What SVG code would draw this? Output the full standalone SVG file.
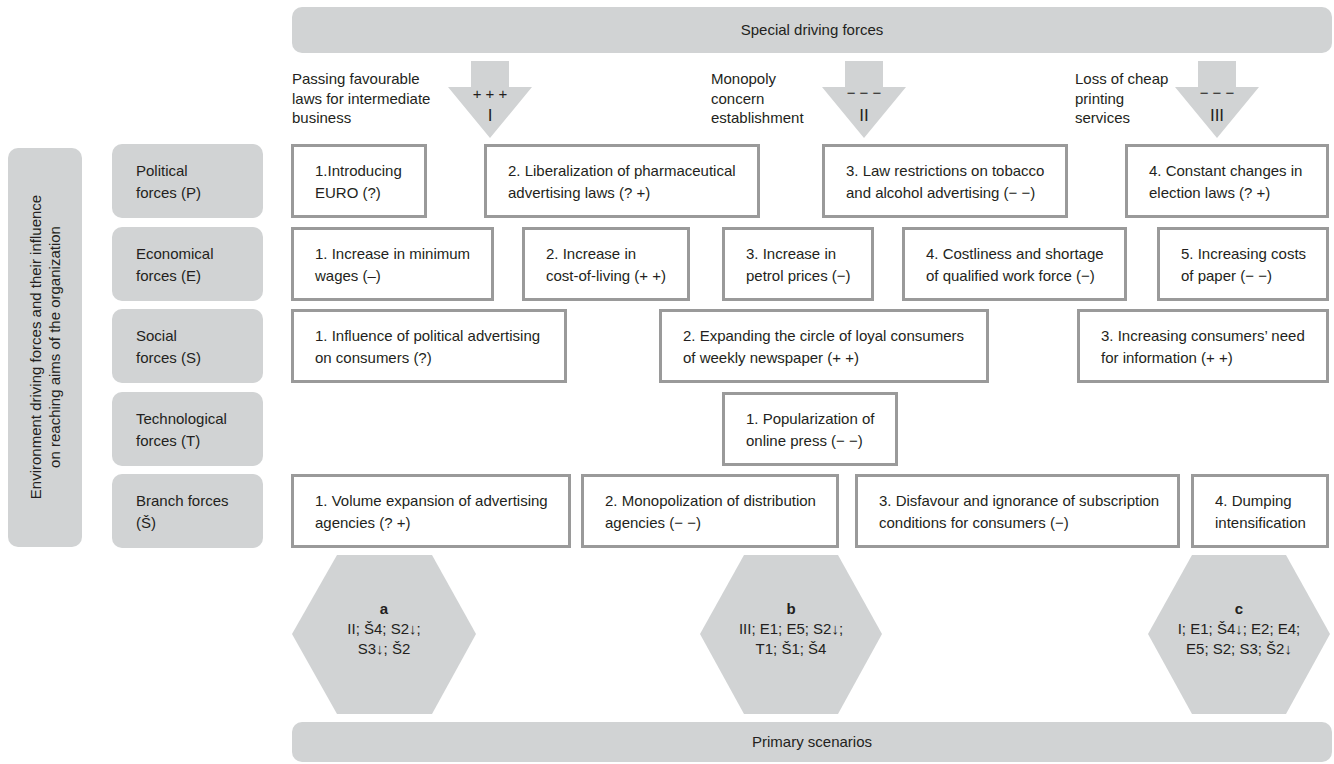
<svg xmlns="http://www.w3.org/2000/svg" width="1334" height="764" viewBox="0 0 1334 764">
<style>
text { font-family: "Liberation Sans", Arial, sans-serif; font-size: 15px; fill: #231f20; }
.band { fill: #d1d3d4; }
.box { fill: #ffffff; stroke: #9a9a9a; stroke-width: 3; }
.arrow { fill: #d1d3d4; }
.c { text-anchor: middle; }
.b { font-weight: bold; }
.num { font-size: 17px; }
</style>
<rect width="1334" height="764" fill="#ffffff"/>

<g id="special-driving-forces">
  <rect class="band" x="292" y="7" width="1040" height="46" rx="10"/>
  <text class="c" x="812" y="35">Special driving forces</text>
</g>

<g id="connectors">
  <polygon class="arrow" points="471,61 509,61 509,87 532,87 490,138 448,87 471,87"/>
  <polygon class="arrow" points="845,61 883,61 883,87 906,87 864,138 822,87 845,87"/>
  <polygon class="arrow" points="1198,61 1236,61 1236,87 1259,87 1217,138 1175,87 1198,87"/>
  <text class="c" x="490" y="99">+ + +</text>
  <text class="c num" x="490" y="121">I</text>
  <text class="c" x="864" y="98">− − −</text>
  <text class="c num" x="864" y="121">II</text>
  <text class="c" x="1217" y="98">− − −</text>
  <text class="c num" x="1217" y="121">III</text>
</g>

<g id="label-I">
  <text x="292" y="84">Passing favourable</text>
  <text x="292" y="104">laws for intermediate</text>
  <text x="292" y="123">business</text>
</g>
<g id="label-II">
  <text x="711" y="84">Monopoly</text>
  <text x="711" y="104">concern</text>
  <text x="711" y="123">establishment</text>
</g>
<g id="label-III">
  <text x="1075" y="84">Loss of cheap</text>
  <text x="1075" y="104">printing</text>
  <text x="1075" y="123">services</text>
</g>

<g id="environment">
  <rect class="band" x="8" y="148" width="74" height="399" rx="10"/>
  <text class="c" transform="translate(41,347) rotate(-90)">Environment driving forces and their influence</text>
  <text class="c" transform="translate(60,347) rotate(-90)">on reaching aims of the organization</text>
</g>

<g id="cat-P">
  <rect class="band" x="112" y="144" width="151" height="74" rx="10"/>
  <text x="136" y="176">Political</text>
  <text x="136" y="198">forces (P)</text>
</g>
<g id="cat-E">
  <rect class="band" x="112" y="227" width="151" height="74" rx="10"/>
  <text x="136" y="259">Economical</text>
  <text x="136" y="281">forces (E)</text>
</g>
<g id="cat-S">
  <rect class="band" x="112" y="309" width="151" height="74" rx="10"/>
  <text x="136" y="341">Social</text>
  <text x="136" y="363">forces (S)</text>
</g>
<g id="cat-T">
  <rect class="band" x="112" y="392" width="151" height="74" rx="10"/>
  <text x="136" y="424">Technological</text>
  <text x="136" y="446">forces (T)</text>
</g>
<g id="cat-B">
  <rect class="band" x="112" y="474" width="151" height="74" rx="10"/>
  <text x="136" y="506">Branch forces</text>
  <text x="136" y="528">(Š)</text>
</g>

<!-- Political row -->
<g id="P1">
  <rect class="box" x="292.5" y="145.5" width="133" height="71"/>
  <text x="315" y="176">1.Introducing</text>
  <text x="315" y="198">EURO (?)</text>
</g>
<g id="P2">
  <rect class="box" x="485.5" y="145.5" width="273" height="71"/>
  <text x="508" y="176">2. Liberalization of pharmaceutical</text>
  <text x="508" y="198">advertising laws (? +)</text>
</g>
<g id="P3">
  <rect class="box" x="823.5" y="145.5" width="243" height="71"/>
  <text x="846" y="176">3. Law restrictions on tobacco</text>
  <text x="846" y="198">and alcohol advertising (− −)</text>
</g>
<g id="P4">
  <rect class="box" x="1126.5" y="145.5" width="201" height="71"/>
  <text x="1149" y="176">4. Constant changes in</text>
  <text x="1149" y="198">election laws (? +)</text>
</g>

<!-- Economical row -->
<g id="E1">
  <rect class="box" x="292.5" y="228.5" width="200" height="71"/>
  <text x="315" y="259">1. Increase in minimum</text>
  <text x="315" y="281">wages (–)</text>
</g>
<g id="E2">
  <rect class="box" x="523.5" y="228.5" width="165" height="71"/>
  <text x="546" y="259">2. Increase in</text>
  <text x="546" y="281">cost-of-living (+ +)</text>
</g>
<g id="E3">
  <rect class="box" x="723.5" y="228.5" width="149" height="71"/>
  <text x="746" y="259">3. Increase in</text>
  <text x="746" y="281">petrol prices (−)</text>
</g>
<g id="E4">
  <rect class="box" x="903.5" y="228.5" width="222" height="71"/>
  <text x="926" y="259">4. Costliness and shortage</text>
  <text x="926" y="281">of qualified work force (−)</text>
</g>
<g id="E5">
  <rect class="box" x="1158.5" y="228.5" width="169" height="71"/>
  <text x="1181" y="259">5. Increasing costs</text>
  <text x="1181" y="281">of paper (− −)</text>
</g>

<!-- Social row -->
<g id="S1">
  <rect class="box" x="292.5" y="310.5" width="273" height="71"/>
  <text x="315" y="341">1. Influence of political advertising</text>
  <text x="315" y="363">on consumers (?)</text>
</g>
<g id="S2">
  <rect class="box" x="660.5" y="310.5" width="327" height="71"/>
  <text x="683" y="341">2. Expanding the circle of loyal consumers</text>
  <text x="683" y="363">of weekly newspaper (+ +)</text>
</g>
<g id="S3">
  <rect class="box" x="1078.5" y="310.5" width="249" height="71"/>
  <text x="1101" y="341">3. Increasing consumers’ need</text>
  <text x="1101" y="363">for information (+ +)</text>
</g>

<!-- Technological row -->
<g id="T1">
  <rect class="box" x="723.5" y="393.5" width="173" height="71"/>
  <text x="746" y="424">1. Popularization of</text>
  <text x="746" y="446">online press (− −)</text>
</g>

<!-- Branch row -->
<g id="B1">
  <rect class="box" x="292.5" y="475.5" width="277" height="71"/>
  <text x="315" y="506">1. Volume expansion of advertising</text>
  <text x="315" y="528">agencies (? +)</text>
</g>
<g id="B2">
  <rect class="box" x="582.5" y="475.5" width="255" height="71"/>
  <text x="605" y="506">2. Monopolization of distribution</text>
  <text x="605" y="528">agencies (− −)</text>
</g>
<g id="B3">
  <rect class="box" x="856.5" y="475.5" width="322" height="71"/>
  <text x="879" y="506">3. Disfavour and ignorance of subscription</text>
  <text x="879" y="528">conditions for consumers (−)</text>
</g>
<g id="B4">
  <rect class="box" x="1192.5" y="475.5" width="135" height="71"/>
  <text x="1215" y="506">4. Dumping</text>
  <text x="1215" y="528">intensification</text>
</g>

<!-- Scenarios -->
<g id="scenario-a">
  <polygon class="band" points="292,634 337,555 432,555 476,634 432,714 337,714"/>
  <text class="c b" x="384" y="614">a</text>
  <text class="c" x="384" y="634">II; Š4; S2↓;</text>
  <text class="c" x="384" y="654">S3↓; Š2</text>
</g>
<g id="scenario-b">
  <polygon class="band" points="700,634 744,555 838,555 882,634 838,714 744,714"/>
  <text class="c b" x="791" y="614">b</text>
  <text class="c" x="791" y="634">III; E1; E5; S2↓;</text>
  <text class="c" x="791" y="654">T1; Š1; Š4</text>
</g>
<g id="scenario-c">
  <polygon class="band" points="1148,634 1192,555 1286,555 1330,634 1286,714 1192,714"/>
  <text class="c b" x="1239" y="614">c</text>
  <text class="c" x="1239" y="634">I; E1; Š4↓; E2; E4;</text>
  <text class="c" x="1239" y="654">E5; S2; S3; Š2↓</text>
</g>

<g id="primary-scenarios">
  <rect class="band" x="292" y="722" width="1040" height="40" rx="10"/>
  <text class="c" x="812" y="747">Primary scenarios</text>
</g>
</svg>
